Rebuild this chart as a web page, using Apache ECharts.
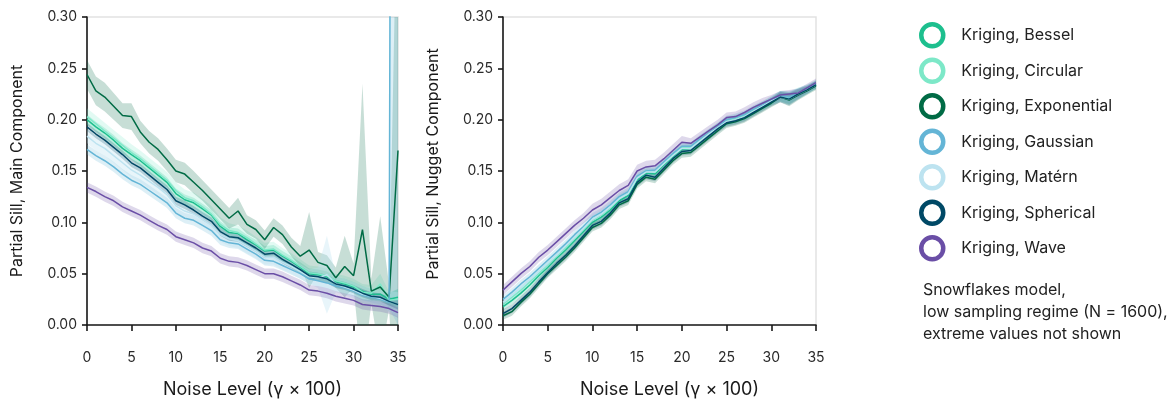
<!DOCTYPE html>
<html>
<head>
<meta charset="utf-8">
<script src="https://cdn.jsdelivr.net/npm/echarts@6/dist/echarts.min.js"></script>
<style>
html,body{margin:0;padding:0;background:#fff;}
#chart{width:1173px;height:404px;}
</style>
</head>
<body>
<div id="chart"></div>
<script>
// ---- categories / ticks ----
const noise = [0,1,2,3,4,5,6,7,8,9,10,11,12,13,14,15,16,17,18,19,20,21,22,23,24,25,26,27,28,29,30,31,32,33,34,35];
const xTicks = [0,5,10,15,20,25,30,35];
const names = ['Kriging, Bessel','Kriging, Circular','Kriging, Exponential','Kriging, Gaussian','Kriging, Matérn','Kriging, Spherical','Kriging, Wave'];

// ---- left panel: Partial Sill, Main Component ----
const mainBessel      = [.200,.193,.187,.180,.172,.166,.160,.153,.146,.139,.128,.122,.119,.113,.107,.096,.090,.089,.083,.078,.072,.073,.067,.062,.056,.050,.049,.047,.042,.040,.037,.033,.030,.030,.025,.027];
const mainBesselSd    = [.005,.005,.005,.005,.005,.005,.005,.005,.005,.005,.005,.005,.005,.005,.005,.005,.005,.005,.005,.005,.005,.005,.005,.005,.005,.005,.005,.005,.005,.005,.005,.005,.005,.006,.006,.008];
const mainCircular    = [.203,.196,.189,.182,.175,.168,.162,.155,.148,.141,.131,.124,.121,.115,.108,.098,.092,.090,.085,.079,.073,.074,.068,.063,.057,.051,.050,.048,.043,.041,.038,.032,.031,.040,.024,.025];
const mainCircularSd  = [.008,.008,.008,.008,.008,.008,.008,.008,.008,.008,.008,.008,.008,.008,.008,.007,.007,.007,.007,.007,.007,.007,.007,.007,.007,.007,.007,.007,.007,.007,.007,.008,.008,.010,.008,.010];
const mainExponential = [.244,.228,.222,.213,.204,.203,.188,.178,.171,.161,.150,.147,.139,.131,.122,.113,.104,.111,.098,.093,.083,.095,.088,.076,.067,.073,.061,.058,.046,.057,.048,.093,.033,.037,.027,.170];
const mainExponentialSd=[.014,.014,.014,.013,.012,.013,.011,.011,.011,.011,.011,.011,.011,.010,.010,.010,.010,.013,.009,.009,.009,.009,.009,.009,.010,.037,.010,.010,.010,.030,.012,.142,.012,.069,.012,.300];
const mainGaussian    = [.171,.165,.160,.154,.147,.141,.137,.131,.125,.119,.109,.104,.102,.097,.092,.083,.080,.079,.074,.069,.063,.062,.058,.054,.050,.045,.043,.041,.038,.036,.033,.029,.027,.025,.022,3.00];
const mainGaussianSd  = [.005,.005,.005,.005,.005,.005,.005,.005,.005,.005,.005,.005,.005,.005,.005,.005,.005,.005,.005,.005,.005,.005,.005,.005,.005,.005,.005,.005,.005,.005,.005,.005,.005,.005,.006,3.00];
const mainMatern      = [.184,.177,.172,.165,.158,.151,.146,.140,.134,.127,.116,.111,.108,.103,.097,.088,.084,.082,.077,.072,.066,.066,.061,.057,.052,.047,.046,.049,.040,.037,.034,.030,.028,.026,.023,.020];
const mainMaternSd    = [.007,.007,.007,.007,.007,.007,.007,.007,.007,.007,.007,.007,.007,.007,.007,.007,.007,.007,.007,.007,.007,.007,.007,.007,.007,.007,.010,.038,.008,.008,.008,.008,.008,.008,.010,.012];
const mainSpherical   = [.193,.186,.180,.173,.166,.158,.153,.146,.139,.132,.121,.117,.112,.106,.101,.091,.086,.085,.080,.075,.069,.070,.064,.059,.054,.048,.047,.045,.040,.038,.035,.031,.028,.027,.023,.020];
const mainSphericalSd = [.004,.004,.004,.004,.004,.004,.004,.004,.004,.004,.004,.004,.004,.004,.004,.004,.004,.004,.004,.004,.004,.004,.004,.004,.004,.004,.004,.004,.004,.004,.004,.004,.004,.004,.004,.005];
const mainWave        = [.134,.130,.125,.121,.115,.111,.107,.102,.097,.093,.086,.083,.080,.075,.072,.065,.062,.061,.058,.054,.050,.050,.047,.043,.039,.034,.033,.031,.028,.026,.024,.020,.019,.018,.016,.012];
const mainWaveSd      = [.005,.005,.005,.005,.005,.005,.005,.005,.005,.005,.005,.005,.005,.005,.005,.005,.005,.005,.005,.005,.005,.005,.005,.005,.005,.005,.005,.005,.005,.005,.005,.005,.005,.005,.005,.005];

// ---- right panel: Partial Sill, Nugget Component ----
const nugBessel      = [.018,.024,.031,.039,.048,.056,.065,.073,.082,.091,.100,.105,.112,.121,.126,.141,.148,.147,.156,.164,.171,.172,.179,.186,.192,.198,.200,.203,.208,.213,.218,.223,.221,.225,.229,.234];
const nugCircular    = [.020,.027,.034,.042,.050,.059,.067,.075,.084,.093,.102,.107,.114,.123,.128,.143,.150,.149,.158,.166,.173,.173,.180,.187,.193,.199,.201,.204,.209,.214,.218,.223,.221,.226,.230,.234];
const nugExponential = [.009,.013,.022,.030,.040,.050,.058,.066,.075,.085,.095,.099,.107,.117,.121,.137,.144,.142,.151,.160,.167,.168,.175,.182,.189,.196,.198,.201,.206,.211,.216,.222,.219,.224,.228,.233];
const nugGaussian    = [.025,.032,.040,.047,.055,.063,.071,.079,.088,.096,.105,.110,.117,.125,.130,.145,.150,.151,.159,.167,.174,.174,.181,.187,.193,.200,.202,.205,.210,.214,.219,.223,.222,.226,.230,.235];
const nugMatern      = [.022,.029,.036,.044,.052,.060,.068,.077,.085,.094,.103,.108,.115,.123,.128,.143,.149,.149,.157,.165,.172,.172,.179,.186,.192,.198,.200,.203,.208,.213,.218,.222,.220,.225,.229,.234];
const nugSpherical   = [.011,.016,.024,.032,.042,.051,.060,.068,.077,.087,.097,.101,.109,.119,.123,.139,.146,.144,.153,.162,.169,.170,.177,.184,.191,.197,.199,.202,.207,.212,.217,.222,.220,.225,.229,.234];
const nugWave        = [.034,.042,.050,.057,.066,.073,.081,.089,.097,.104,.112,.117,.124,.131,.136,.150,.154,.155,.162,.170,.178,.177,.183,.189,.195,.202,.203,.207,.212,.216,.220,.224,.225,.226,.231,.236];
const nugSd          = [.004,.004,.004,.004,.004,.004,.004,.004,.004,.004,.004,.004,.004,.004,.004,.004,.004,.004,.004,.004,.004,.004,.004,.004,.004,.004,.004,.004,.004,.004,.004,.005,.006,.005,.004,.004];
const nugWaveSd      = [.005,.005,.005,.005,.005,.005,.005,.005,.005,.005,.006,.006,.006,.006,.006,.006,.006,.006,.006,.006,.006,.005,.005,.005,.005,.005,.005,.005,.005,.005,.004,.004,.004,.004,.004,.004];

const colors = ['#1dbf8e','#7de8c8','#006b45','#64b5d6','#bde3f0','#004966','#6a4ea6'];
const FONT = 'Inter, "Noto Sans", sans-serif';

const mainSets = [[mainBessel,mainBesselSd],[mainCircular,mainCircularSd],[mainExponential,mainExponentialSd],[mainGaussian,mainGaussianSd],[mainMatern,mainMaternSd],[mainSpherical,mainSphericalSd],[mainWave,mainWaveSd]];
const nugSets = [[nugBessel,nugSd],[nugCircular,nugSd],[nugExponential,nugSd],[nugGaussian,nugSd],[nugMatern,nugSd],[nugSpherical,nugSd],[nugWave,nugWaveSd]];

function hexA(hex, a){
  const r=parseInt(hex.substr(1,2),16), g=parseInt(hex.substr(3,2),16), b=parseInt(hex.substr(5,2),16);
  return `rgba(${r},${g},${b},${a})`;
}

const bandSeries = [], lineSeries = [];
[mainSets, nugSets].forEach((sets, gi) => {
  sets.forEach(([vals, sd], k) => {
    const rows = vals.map((v,i)=>[noise[i], v - sd[i], v + sd[i]]);
    const fill = hexA(colors[k], k===4 ? 0.35 : 0.22);
    bandSeries.push({
      type:'custom', name:'band'+gi+'_'+k, xAxisIndex:gi, yAxisIndex:gi, clip:true, silent:true, z:1,
      data: rows, encode:{x:0, y:[1,2]},
      renderItem:(params, api) => {
        if (params.dataIndex !== 0) return null;
        const pts = [];
        for (let i=0;i<rows.length;i++) pts.push(api.coord([rows[i][0], rows[i][1]]));
        for (let i=rows.length-1;i>=0;i--) pts.push(api.coord([rows[i][0], rows[i][2]]));
        return {type:'polygon', shape:{points:pts}, style:{fill:fill, stroke:null}};
      }
    });
    lineSeries.push({
      type:'line', name:names[k], xAxisIndex:gi, yAxisIndex:gi,
      data: vals.map((v,i)=>[noise[i], v]), symbol:'none', silent:true,
      lineStyle:{color:colors[k], width:1.5}, itemStyle:{color:colors[k]}, z:3
    });
  });
});

function yAxisCfg(gi, title, pad){
  return {
    type:'value', gridIndex:gi, min:0, max:0.3, interval:0.05,
    name:title, nameLocation:'middle', nameGap:62,
    nameTextStyle:{fontFamily:FONT, fontSize:16, color:'#1a1a1a', padding:[0,0,0,pad]},
    axisLine:{show:true, lineStyle:{color:'#1a1a1a', width:1.6}},
    axisTick:{show:true, length:5, lineStyle:{color:'#1a1a1a', width:1.6}},
    axisLabel:{fontFamily:FONT, fontSize:14, color:'#2a2a2a', margin:10, formatter:v=>v.toFixed(2)},
    splitLine:{show:false}
  };
}
function xAxisCfg(gi){
  return {
    type:'value', gridIndex:gi, min:0, max:35, interval:5, offset:15,
    name:'Noise Level (γ × 100)', nameLocation:'middle', nameGap:41,
    nameTextStyle:{fontFamily:FONT, fontSize:18, color:'#1a1a1a', padding:[0,0,0,20]},
    axisLine:{show:true, lineStyle:{color:'#1a1a1a', width:1.6}},
    axisTick:{show:true, length:6, lineStyle:{color:'#1a1a1a', width:1.6}},
    axisLabel:{fontFamily:FONT, fontSize:14, color:'#2a2a2a', margin:11,
      formatter:v=> xTicks.includes(v) ? String(v) : ''},
    splitLine:{show:false}
  };
}

const option = {
  animation:false,
  backgroundColor:'#fff',
  grid:[
    {left:87, top:17, width:311, height:311, show:true, borderColor:'#e2e2e2', borderWidth:1.5, backgroundColor:'transparent'},
    {left:503, top:17, width:313, height:311, show:true, borderColor:'#e2e2e2', borderWidth:1.5, backgroundColor:'transparent'}
  ],
  xAxis:[xAxisCfg(0), xAxisCfg(1)],
  yAxis:[yAxisCfg(0,'Partial Sill, Main Component',0), yAxisCfg(1,'Partial Sill, Nugget Component',14)],
  legend:{
    orient:'vertical', left:914, top:17, itemWidth:48, itemHeight:22, itemGap:9,
    icon:'circle', selectedMode:false, symbolKeepAspect:true,
    data: names.map((n,i)=>({name:n, itemStyle:{color:'#fff', borderColor:colors[i], borderWidth:4.5}})),
    textStyle:{fontFamily:FONT, fontSize:16, color:'#222'}
  },
  graphic:[{
    type:'text', left:923, top:279,
    style:{text:'Snowflakes model,\nlow sampling regime (N = 1600),\nextreme values not shown',
      fontFamily:'Inter', fontSize:16, lineHeight:22, fill:'#222'}
  }],
  series: bandSeries.concat(lineSeries)
};

const chart = echarts.init(document.getElementById('chart'), null, {renderer:'canvas'});
chart.setOption(option);
</script>
</body>
</html>
